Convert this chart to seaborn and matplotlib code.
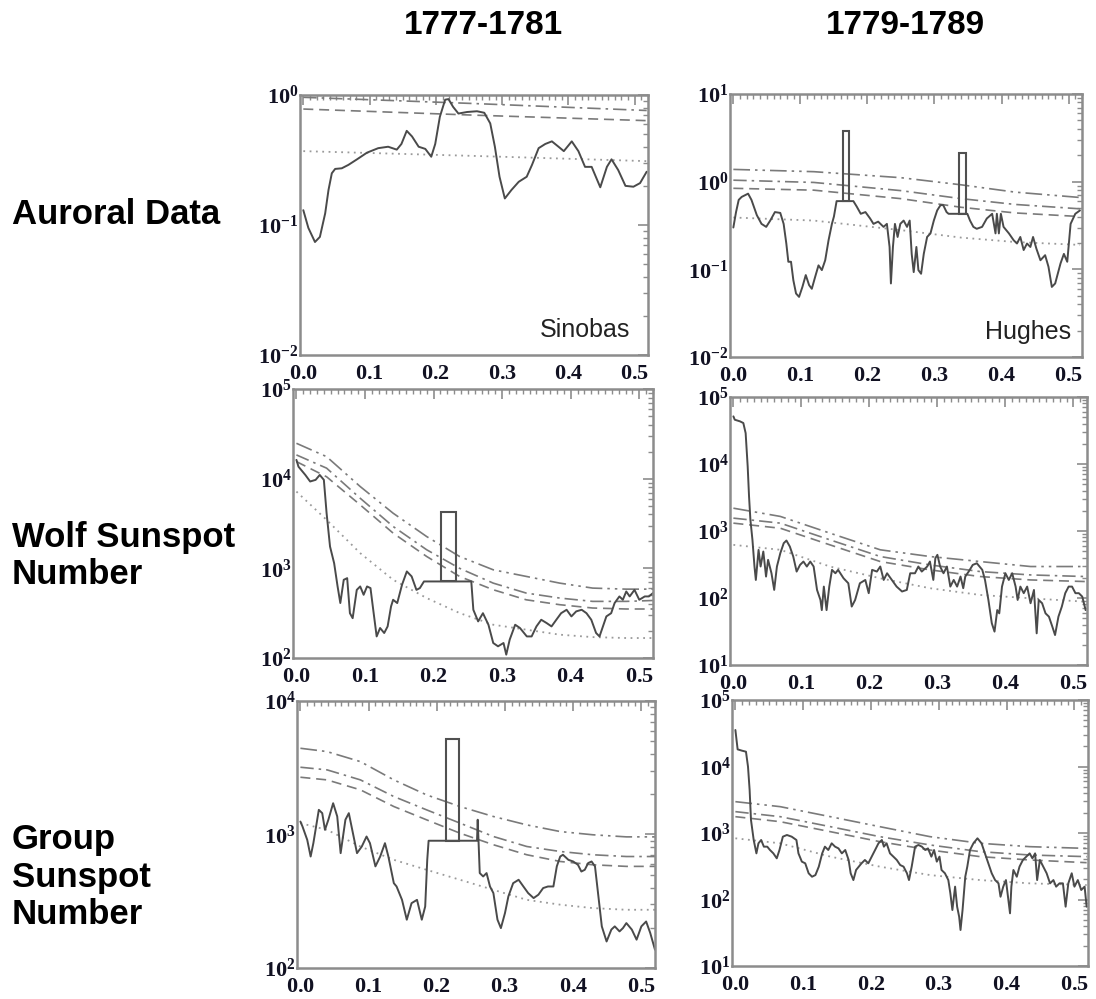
import numpy as np
import pandas as pd
import matplotlib
matplotlib.use("Agg")
import matplotlib.pyplot as plt
from matplotlib.patches import Rectangle
from matplotlib.ticker import MultipleLocator, LogLocator, FuncFormatter, NullFormatter
import seaborn as sns

# ---------------------------------------------------------------------------
# Power spectra (frequency in cycles/yr, power) and significance levels
# ---------------------------------------------------------------------------

# Auroral data, Sinobas, 1777-1781
freq_aur_a = [0.0, 0.0076, 0.0176, 0.025, 0.033, 0.038, 0.043, 0.048, 0.058, 0.068,
              0.081, 0.096, 0.113, 0.128, 0.141, 0.148, 0.156, 0.164, 0.174, 0.184,
              0.193, 0.199, 0.206, 0.214, 0.219, 0.226, 0.234, 0.247, 0.262, 0.273,
              0.282, 0.289, 0.296, 0.304, 0.314, 0.325, 0.337, 0.345, 0.355, 0.365,
              0.375, 0.385, 0.393, 0.405, 0.415, 0.425, 0.435, 0.448, 0.458, 0.465,
              0.475, 0.486, 0.498, 0.508, 0.518]
pow_aur_a = [0.13, 0.095, 0.074, 0.081, 0.123, 0.186, 0.25, 0.27, 0.273, 0.29,
             0.32, 0.36, 0.39, 0.40, 0.38, 0.42, 0.53, 0.48, 0.40, 0.385,
             0.335, 0.42, 0.68, 0.92, 0.93, 0.81, 0.72, 0.74, 0.75, 0.73,
             0.605, 0.40, 0.235, 0.16, 0.186, 0.215, 0.235, 0.29, 0.39, 0.42,
             0.44, 0.40, 0.37, 0.44, 0.37, 0.28, 0.28, 0.195, 0.28, 0.32,
             0.265, 0.20, 0.197, 0.21, 0.257]
lev_f_aur_a = [0.0, 0.257, 0.518]
lev_red_aur_a = [0.37, 0.34, 0.31]
lev_90_aur_a = [0.78, 0.70, 0.635]
lev_95_aur_a = [0.96, 0.86, 0.76]
lev_99_aur_a = None

# Auroral data, Hughes, 1779-1789
freq_aur_b = [0.0, 0.004, 0.008, 0.0124, 0.022, 0.027, 0.035, 0.042, 0.049, 0.055,
              0.062, 0.070, 0.075, 0.079, 0.082, 0.086, 0.0895, 0.0935, 0.098, 0.103,
              0.108, 0.113, 0.117, 0.122, 0.127, 0.132, 0.137, 0.142, 0.147, 0.150,
              0.154, 0.179, 0.184, 0.190, 0.197, 0.204, 0.209, 0.216, 0.224, 0.229,
              0.233, 0.235, 0.238, 0.241, 0.245, 0.249, 0.254, 0.259, 0.263, 0.266,
              0.269, 0.273, 0.276, 0.280, 0.284, 0.289, 0.294, 0.299, 0.304, 0.309,
              0.313, 0.318, 0.321, 0.349, 0.353, 0.358, 0.363, 0.371, 0.378, 0.386,
              0.391, 0.393, 0.396, 0.399, 0.403, 0.411, 0.418, 0.423, 0.428, 0.433,
              0.438, 0.443, 0.447, 0.452, 0.458, 0.465, 0.470, 0.475, 0.480, 0.488,
              0.493, 0.498, 0.503, 0.510, 0.517]
pow_aur_b = [0.30, 0.45, 0.62, 0.67, 0.73, 0.62, 0.415, 0.33, 0.305, 0.36,
             0.45, 0.44, 0.33, 0.197, 0.122, 0.122, 0.075, 0.053, 0.0485, 0.063,
             0.086, 0.066, 0.060, 0.082, 0.111, 0.098, 0.127, 0.215, 0.33, 0.40,
             0.60, 0.60, 0.52, 0.43, 0.45, 0.38, 0.33, 0.35, 0.305, 0.33,
             0.18, 0.069, 0.18, 0.33, 0.234, 0.33, 0.36, 0.305, 0.36, 0.15,
             0.093, 0.18, 0.098, 0.089, 0.15, 0.234, 0.257, 0.36, 0.47, 0.54,
             0.54, 0.45, 0.43, 0.43, 0.36, 0.305, 0.29, 0.305, 0.38, 0.43,
             0.257, 0.43, 0.257, 0.43, 0.305, 0.257, 0.215, 0.197, 0.234, 0.166,
             0.197, 0.18, 0.234, 0.172, 0.127, 0.145, 0.107, 0.063, 0.069, 0.117,
             0.15, 0.122, 0.33, 0.43, 0.47]
lev_f_aur_b = [0.0, 0.12, 0.25, 0.34, 0.42, 0.517]
lev_red_aur_b = [0.39, 0.36, 0.28, 0.23, 0.205, 0.19]
lev_90_aur_b = [0.84, 0.80, 0.64, 0.51, 0.44, 0.40]
lev_95_aur_b = [1.04, 0.98, 0.79, 0.64, 0.55, 0.49]
lev_99_aur_b = [1.38, 1.30, 1.11, 0.92, 0.76, 0.66]
peak_lo_aur_b = [0.163, 0.336]
peak_hi_aur_b = [0.173, 0.347]
peak_base_aur_b = [0.60, 0.43]
peak_top_aur_b = [3.8, 2.15]

# Wolf sunspot number, 1777-1781
freq_wolf_a = [0.0, 0.003, 0.013, 0.020, 0.028, 0.034, 0.040, 0.044, 0.049, 0.055,
               0.060, 0.064, 0.069, 0.074, 0.078, 0.082, 0.088, 0.093, 0.098, 0.103,
               0.108, 0.112, 0.117, 0.122, 0.128, 0.133, 0.138, 0.141, 0.147, 0.154,
               0.161, 0.168, 0.175, 0.180, 0.186, 0.255, 0.258, 0.265, 0.272, 0.280,
               0.287, 0.294, 0.302, 0.306, 0.311, 0.319, 0.326, 0.336, 0.343, 0.350,
               0.357, 0.365, 0.372, 0.379, 0.386, 0.394, 0.401, 0.408, 0.416, 0.423,
               0.430, 0.437, 0.442, 0.447, 0.452, 0.459, 0.464, 0.471, 0.476, 0.481,
               0.486, 0.493, 0.500, 0.508, 0.514, 0.520]
pow_wolf_a = [16200, 13600, 11000, 9300, 9700, 11000, 9700, 4120, 1750, 1140,
              630, 410, 745, 777, 316, 278, 575, 628, 507, 628,
              602, 345, 174, 216, 190, 225, 376, 446, 410, 656,
              923, 813, 575, 602, 714, 714, 345, 256, 316, 235,
              147, 135, 147, 109, 160, 235, 216, 174, 174, 225,
              267, 245, 225, 267, 316, 345, 291, 331, 345, 316,
              267, 190, 174, 225, 291, 316, 410, 486, 446, 552,
              486, 575, 446, 486, 486, 530]
lev_f_wolf_a = [0.0, 0.044, 0.093, 0.141, 0.19, 0.238, 0.287, 0.335, 0.384, 0.432, 0.481, 0.52]
lev_red_wolf_a = [7180, 3470, 1478, 745, 466, 317, 235, 207, 182, 171, 167, 167]
lev_90_wolf_a = [15500, 10500, 5100, 2470, 1355, 811, 577, 446, 393, 361, 352, 352]
lev_95_wolf_a = [18400, 13100, 6050, 2930, 1610, 1000, 684, 530, 466, 428, 428, 438]
lev_99_wolf_a = [24800, 17600, 8170, 4120, 2260, 1355, 963, 813, 684, 602, 586, 586]
peak_lo_wolf_a = [0.211]
peak_hi_wolf_a = [0.232]
peak_base_wolf_a = [714]
peak_top_wolf_a = [4230]

# Wolf sunspot number, 1779-1789
freq_wolf_b = [0.0, 0.002, 0.0097, 0.0146, 0.018, 0.021, 0.023, 0.025, 0.028, 0.031,
               0.033, 0.037, 0.040, 0.044, 0.048, 0.051, 0.056, 0.060, 0.064, 0.069,
               0.074, 0.078, 0.083, 0.088, 0.093, 0.098, 0.103, 0.108, 0.113, 0.118,
               0.123, 0.128, 0.130, 0.133, 0.137, 0.141, 0.145, 0.150, 0.154, 0.162,
               0.169, 0.174, 0.179, 0.186, 0.194, 0.199, 0.204, 0.211, 0.216, 0.221,
               0.226, 0.233, 0.240, 0.248, 0.255, 0.260, 0.267, 0.272, 0.277, 0.285,
               0.289, 0.294, 0.297, 0.300, 0.304, 0.309, 0.314, 0.319, 0.324, 0.329,
               0.334, 0.338, 0.341, 0.346, 0.352, 0.358, 0.366, 0.370, 0.375, 0.380,
               0.384, 0.388, 0.391, 0.395, 0.400, 0.405, 0.410, 0.415, 0.418, 0.422,
               0.427, 0.432, 0.437, 0.442, 0.446, 0.449, 0.454, 0.459, 0.464, 0.469,
               0.473, 0.478, 0.483, 0.488, 0.493, 0.498, 0.503, 0.508, 0.513, 0.518]
pow_wolf_b = [51400, 45800, 43300, 40900, 28900, 9200, 3280, 1470, 738, 295,
              186, 522, 295, 494, 209, 371, 234, 132, 295, 467,
              658, 721, 586, 416, 248, 312, 350, 295, 350, 295,
              132, 93.5, 66, 148, 66, 148, 263, 234, 263, 197,
              166, 74.5, 93.5, 166, 186, 118, 263, 248, 295, 186,
              234, 186, 148, 125, 132, 234, 234, 295, 248, 295,
              350, 186, 393, 441, 295, 234, 295, 148, 186, 148,
              209, 140, 209, 248, 312, 330, 263, 186, 93.5, 42,
              31.5, 66, 59, 148, 234, 186, 234, 148, 93.5, 148,
              118, 148, 83.5, 132, 29.7, 93.5, 83.5, 59, 52.7, 37.4,
              28, 52.7, 74.5, 118, 148, 148, 118, 118, 105, 66]
lev_f_wolf_b = [0.0, 0.069, 0.142, 0.216, 0.289, 0.363, 0.437, 0.518]
lev_red_wolf_b = [621, 524, 295, 197, 140, 111, 99, 88]
lev_90_wolf_b = [1310, 1100, 621, 350, 263, 209, 186, 176]
lev_95_wolf_b = [1556, 1310, 738, 416, 312, 248, 221, 209]
lev_99_wolf_b = [2190, 1650, 929, 524, 416, 350, 295, 295]

# Group sunspot number, 1777-1781
freq_grp_a = [0.0, 0.003, 0.010, 0.015, 0.019, 0.027, 0.032, 0.036, 0.041, 0.048,
              0.054, 0.059, 0.066, 0.071, 0.076, 0.083, 0.090, 0.097, 0.102, 0.110,
              0.117, 0.124, 0.129, 0.137, 0.141, 0.149, 0.156, 0.163, 0.171, 0.178,
              0.183, 0.186, 0.188, 0.259, 0.260, 0.263, 0.268, 0.273, 0.278, 0.283,
              0.289, 0.294, 0.300, 0.305, 0.312, 0.320, 0.327, 0.334, 0.342, 0.349,
              0.356, 0.363, 0.371, 0.376, 0.381, 0.385, 0.393, 0.400, 0.407, 0.412,
              0.417, 0.422, 0.427, 0.432, 0.437, 0.442, 0.449, 0.456, 0.461, 0.468,
              0.473, 0.478, 0.486, 0.493, 0.500, 0.507, 0.513, 0.520]
pow_grp_a = [1250, 1150, 912, 684, 861, 1530, 1445, 1084, 1290, 1715,
             1365, 725, 1290, 1445, 1084, 725, 813, 966, 861, 577,
             684, 861, 684, 432, 408, 324, 230, 306, 324, 230,
             289, 646, 898, 898, 1290, 514, 485, 514, 408, 364,
             230, 199, 258, 344, 432, 458, 408, 364, 334, 354,
             397, 408, 408, 577, 684, 705, 646, 628, 593, 528,
             544, 611, 628, 577, 344, 205, 158, 194, 205, 188,
             199, 217, 194, 163, 205, 223, 183, 137]
lev_f_grp_a = [0.0, 0.039, 0.088, 0.137, 0.185, 0.234, 0.283, 0.332, 0.381, 0.429, 0.478, 0.52]
lev_red_grp_a = [1216, 1084, 813, 646, 544, 458, 385, 324, 298, 281, 273, 273]
lev_90_grp_a = [2685, 2565, 2160, 1620, 1288, 1023, 838, 705, 628, 593, 577, 577]
lev_95_grp_a = [3190, 3050, 2565, 1925, 1530, 1217, 966, 813, 746, 705, 684, 684]
lev_99_grp_a = [4425, 4180, 3515, 2565, 1980, 1620, 1364, 1180, 1052, 995, 960, 960]
peak_lo_grp_a = [0.213]
peak_hi_grp_a = [0.233]
peak_base_grp_a = [898]
peak_top_grp_a = [5165]

# Group sunspot number, 1779-1789
freq_grp_b = [0.0, 0.0033, 0.0097, 0.0156, 0.0186, 0.021, 0.023, 0.027, 0.031, 0.034,
              0.038, 0.042, 0.047, 0.051, 0.056, 0.061, 0.065, 0.070, 0.076, 0.083,
              0.090, 0.093, 0.098, 0.103, 0.108, 0.113, 0.118, 0.123, 0.128, 0.132,
              0.137, 0.142, 0.147, 0.152, 0.157, 0.162, 0.167, 0.170, 0.174, 0.178,
              0.182, 0.186, 0.191, 0.196, 0.201, 0.206, 0.211, 0.216, 0.219, 0.223,
              0.228, 0.233, 0.238, 0.243, 0.248, 0.253, 0.256, 0.260, 0.265, 0.270,
              0.275, 0.280, 0.284, 0.289, 0.293, 0.297, 0.301, 0.304, 0.309, 0.314,
              0.317, 0.320, 0.324, 0.327, 0.330, 0.332, 0.335, 0.339, 0.342, 0.346,
              0.351, 0.357, 0.363, 0.368, 0.373, 0.378, 0.383, 0.388, 0.391, 0.395,
              0.399, 0.402, 0.405, 0.407, 0.410, 0.415, 0.419, 0.424, 0.429, 0.434,
              0.438, 0.442, 0.445, 0.449, 0.454, 0.459, 0.464, 0.469, 0.473, 0.478,
              0.483, 0.487, 0.491, 0.496, 0.500, 0.505, 0.510, 0.515, 0.518]
pow_grp_b = [35400, 18100, 17300, 16700, 9940, 4430, 1570, 785, 494, 700,
             785, 623, 623, 555, 494, 416, 555, 881, 933, 881,
             785, 494, 371, 350, 248, 220, 233, 312, 494, 623,
             555, 700, 623, 587, 494, 555, 393, 248, 196, 278,
             312, 350, 393, 350, 441, 555, 700, 785, 623, 700,
             494, 441, 393, 330, 312, 248, 196, 312, 623, 661,
             623, 555, 587, 441, 555, 371, 441, 278, 248, 196,
             124, 69.5, 156, 78, 55, 34.8, 69.5, 220, 312, 555,
             700, 832, 700, 494, 350, 248, 196, 175, 110, 156,
             196, 110, 62, 156, 278, 220, 312, 393, 441, 494,
             416, 494, 196, 393, 312, 248, 175, 196, 156, 175,
             175, 78, 175, 248, 156, 196, 139, 156, 78]
lev_f_grp_b = [0.0, 0.066, 0.140, 0.213, 0.287, 0.361, 0.434, 0.518]
lev_red_grp_b = [832, 700, 441, 312, 233, 196, 175, 165]
lev_90_grp_b = [1760, 1480, 1047, 741, 555, 441, 393, 358]
lev_95_grp_b = [2095, 1760, 1245, 881, 661, 524, 467, 441]
lev_99_grp_b = [2960, 2490, 1760, 1245, 881, 700, 623, 587]

col_titles = ["1777-1781", "1779-1789"]
row_titles = ["Auroral Data", "Wolf Sunspot\nNumber", "Group\nSunspot\nNumber"]
source_names = {"aur_a": "Sinobas", "aur_b": "Hughes"}
freq_ticks = [0.0, 0.1, 0.2, 0.3, 0.4, 0.5]

# ---------------------------------------------------------------------------
W, H = 1096, 999
fig = plt.figure(figsize=(W / 100, H / 100), dpi=100)

sns.set_theme(style="white")
plt.rcParams["font.family"] = ["Liberation Sans", "DejaVu Sans"]
plt.rcParams["mathtext.fontset"] = "custom"
plt.rcParams["mathtext.rm"] = "Liberation Serif"
plt.rcParams["mathtext.bf"] = "Liberation Serif:bold"
plt.rcParams["mathtext.it"] = "Liberation Serif:italic"

FRAME = "#8c8c8c"
CURVE = "#4a4a4a"
LEVEL = "#7a7a7a"
DOTTED = "#9a9a9a"

# panel boxes in pixels: left, top, right, bottom; caption x (axes fraction)
panels = [
    ("aur_a", (300, 95, 648, 355), (1e-2, 1e0), 0.95),
    ("aur_b", (730, 94, 1082, 357), (1e-2, 1e1), 0.97),
    ("wolf_a", (293, 389, 653, 658), (1e2, 1e5), None),
    ("wolf_b", (730, 397, 1087, 665), (1e1, 1e5), None),
    ("grp_a", (297, 701, 655, 968), (1e2, 1e4), None),
    ("grp_b", (732, 700, 1088, 966), (1e1, 1e5), None),
]

g = globals()


def ylabel_fmt(v, pos):
    e = int(round(np.log10(v)))
    return r"$\mathbf{10^{%d}}$" % e


def xlabel_fmt(v, pos):
    return r"$\mathbf{%.1f}$" % v


for key, (l, t, r, b), ylim, cap_x in panels:
    ax = fig.add_axes([l / W, 1 - b / H, (r - l) / W, (b - t) / H])
    ax.set_yscale("log")

    spec = pd.DataFrame({"freq": g["freq_" + key], "power": g["pow_" + key]})
    lev_f = g["lev_f_" + key]
    styles = [
        ("lev_red_", DOTTED, (0, (1, 2.5)), 1.3),
        ("lev_90_", LEVEL, (0, (6, 3.5)), 1.2),
        ("lev_95_", LEVEL, (0, (8, 3, 1.5, 3)), 1.2),
        ("lev_99_", LEVEL, (0, (10, 3, 1.5, 3, 1.5, 3)), 1.2),
    ]
    for prefix, col, ls, lw in styles:
        vals = g[prefix + key]
        if vals is None:
            continue
        lev = pd.DataFrame({"freq": lev_f, "power": vals})
        sns.lineplot(data=lev, x="freq", y="power", ax=ax, color=col,
                     linestyle=ls, linewidth=lw, estimator=None, sort=False)

    sns.lineplot(data=spec, x="freq", y="power", ax=ax, color=CURVE,
                 linewidth=1.4, estimator=None, sort=False)

    if ("peak_lo_" + key) in g:
        for lo, hi, base, top in zip(g["peak_lo_" + key], g["peak_hi_" + key],
                                     g["peak_base_" + key], g["peak_top_" + key]):
            ax.add_patch(Rectangle((lo, base), hi - lo, top - base, fill=False,
                                   edgecolor="#505050", linewidth=1.5, zorder=3))

    ax.set_xlim(-0.005, 0.52)
    ax.set_ylim(*ylim)
    ax.set_xlabel("")
    ax.set_ylabel("")

    ax.xaxis.set_major_locator(MultipleLocator(0.1))
    ax.xaxis.set_minor_locator(MultipleLocator(0.01))
    ax.set_xticks(freq_ticks)
    ax.xaxis.set_major_formatter(FuncFormatter(xlabel_fmt))
    ax.yaxis.set_major_locator(LogLocator(base=10, numticks=12))
    ax.yaxis.set_minor_locator(LogLocator(base=10, subs=np.arange(2, 10), numticks=12))
    ax.yaxis.set_major_formatter(FuncFormatter(ylabel_fmt))
    ax.yaxis.set_minor_formatter(NullFormatter())

    ax.tick_params(which="both", direction="in", top=True, right=True,
                   color=FRAME, labelcolor="#111122", labelsize=16)
    ax.tick_params(which="major", length=7, width=1.2)
    ax.tick_params(which="minor", length=3.5, width=1.0)
    ax.tick_params(axis="x", pad=6)
    ax.tick_params(axis="y", pad=1)
    for sp in ax.spines.values():
        sp.set_color(FRAME)
        sp.set_linewidth(1.8)
    ax.grid(False)

    if key in source_names:
        ax.text(cap_x, 0.05, source_names[key], transform=ax.transAxes,
                ha="right", va="bottom", fontsize=18, color="#222222",
                family=["Liberation Sans", "DejaVu Sans"])

# column and row headings
for txt, cx in zip(col_titles, [483, 905]):
    fig.text(cx / W, 1 - 25 / H, txt, ha="center", va="center",
             fontsize=24, fontweight="bold", color="black")
for txt, cy in zip(row_titles, [215, 556, 877]):
    fig.text(12 / W, 1 - cy / H, txt, ha="left", va="center", fontsize=25,
             fontweight="bold", color="black", linespacing=1.18)

fig.savefig("out.png", dpi=100)
